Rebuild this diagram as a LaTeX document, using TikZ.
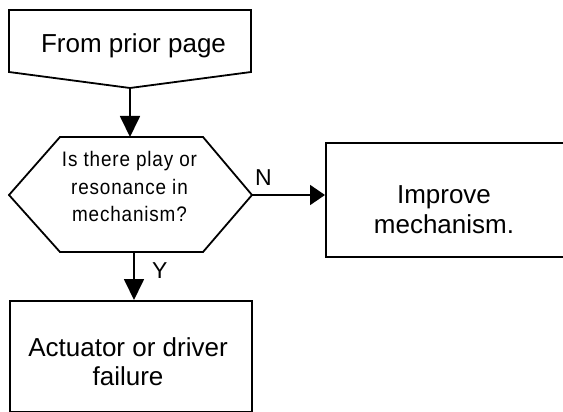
\documentclass[tikz,border=0pt]{standalone}
\usepackage{fontspec}
\setmainfont{Liberation Sans}
\newfontfamily\hexfont[FakeStretch=0.9,LetterSpace=4]{Liberation Sans}
\usetikzlibrary{arrows.meta}
\begin{document}
\begin{tikzpicture}[x=1pt,y=-1pt,
  line/.style={draw=black, line width=1.8pt, line join=miter},
  box/.style={line, rectangle, inner sep=0pt},
  arr/.style={line width=1.8pt, -{Triangle[width=20pt,length=21pt]}},
  arrh/.style={line width=1.8pt, -{Triangle[width=20pt,length=15pt]}},
  txt/.style={inner sep=0pt, font=\fontsize{26}{29}\selectfont, align=center},
  htxt/.style={inner sep=0pt, font=\hexfont\fontsize{21}{27.5}\selectfont, align=center},
  lbl/.style={inner sep=0pt, font=\fontsize{23}{27}\selectfont}]
\useasboundingbox (0,0) rectangle (563,412);
% off-page connector
\coordinate (opTip) at (130,88);
\draw[line] (9,10) -- (251,10) -- (251,72) -- (opTip) -- (9,72) -- cycle;
\node[txt, anchor=base] (optxt) at (133.5,53) {From prior page};
% decision hexagon
\coordinate (hexTop) at (130,137);
\coordinate (hexRight) at (252,195);
\coordinate (hexBot) at (134,252);
\draw[line] (60,137) -- (203,137) -- (hexRight) -- (203,252) -- (60,252) -- (9,195) -- cycle;
\node[htxt, anchor=base] (q) at (129.5,221.7) {Is there play or\\resonance in\\mechanism?};
% boxes
\node[box, anchor=north west, minimum width=245pt, minimum height=114pt] (imp) at (325,142) {};
\node[txt, anchor=base] (imptxt) at (444,233) {Improve\\mechanism.};
\node[box, anchor=north west, minimum width=242pt, minimum height=111pt] (act) at (9,300) {};
\node[txt, anchor=base] (acttxt) at (128,385) {Actuator or driver\\failure};
% connectors
\draw[arr] (opTip) -- (hexTop);
\draw[arrh] (hexRight) -- (hexRight -| imp.west);
\draw[arr] (hexBot) -- (hexBot |- act.north);
\node[lbl, anchor=base west] (nlbl) at (255,185) {N};
\node[lbl, anchor=base west] (ylbl) at (152,278) {Y};
\end{tikzpicture}
\end{document}
